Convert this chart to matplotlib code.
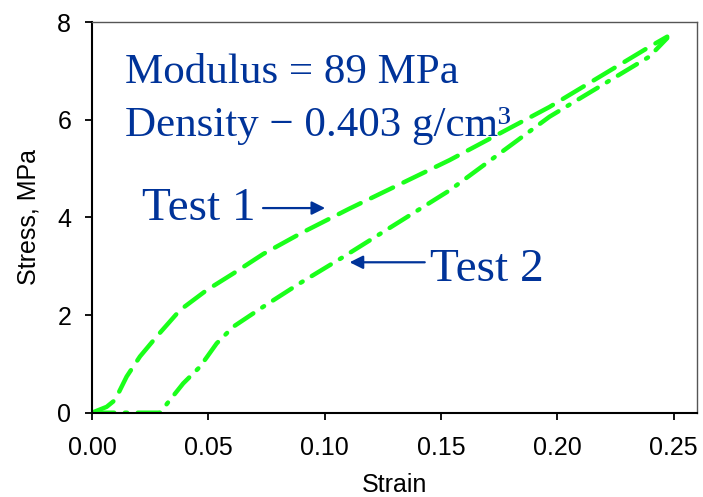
import matplotlib
matplotlib.use("Agg")
import matplotlib.pyplot as plt

# Data
test1_strain = [0.0, 0.0063, 0.0099, 0.0149, 0.0206, 0.0278, 0.0378, 0.0493, 0.0607, 0.0736,
                0.09, 0.1107, 0.1536, 0.1966, 0.2395, 0.2472]
test1_stress = [0.0, 0.12, 0.26, 0.74, 1.15, 1.56, 2.10, 2.51, 2.85, 3.25,
                3.68, 4.18, 5.17, 6.26, 7.49, 7.70]
test2_strain = [0.0, 0.0292, 0.0335, 0.0392, 0.0464, 0.0536, 0.0607, 0.0736, 0.0893, 0.108,
                0.1536, 0.1966, 0.2395, 0.2472]
test2_stress = [0.0, 0.0, 0.26, 0.60, 0.94, 1.42, 1.76, 2.17, 2.65, 3.19,
                4.55, 6.06, 7.29, 7.67]
xticks = [0.00, 0.05, 0.10, 0.15, 0.20, 0.25]
yticks = [0, 2, 4, 6, 8]

plt.rcParams['font.family'] = ['Liberation Sans', 'DejaVu Sans']

fig = plt.figure(figsize=(7.03, 4.97), dpi=100)
ax = fig.add_axes([92/703, (497-412.7)/497, (697-92)/703, (412.7-22)/497])

green = '#1aff1a'
ax.plot(test1_strain, test1_stress, color=green, lw=3.2, dashes=(5.5, 2.6), dash_capstyle='round')
ax.plot(test2_strain, test2_stress, color=green, lw=3.2, dashes=(5.0, 2.4, 0.5, 2.4), dash_capstyle='round')

ax.set_xlim(0, 0.26)
ax.set_ylim(0, 8)
ax.set_xticks(xticks)
ax.set_xticklabels([f"{v:.2f}" for v in xticks])
ax.set_yticks(yticks)
ax.tick_params(axis='both', direction='out', length=5, width=1.3, labelsize=18, color='black')
ax.tick_params(axis='x', pad=12)
ax.tick_params(axis='y', pad=10)
for s in ['left', 'bottom']:
    ax.spines[s].set_linewidth(1.5)
    ax.spines[s].set_color('black')
for s in ['top', 'right']:
    ax.spines[s].set_linewidth(1.0)
    ax.spines[s].set_color('#555555')

ax.set_xlabel('Strain', fontsize=18, labelpad=9)
ax.set_ylabel('Stress, MPa', fontsize=18, labelpad=12)

blue = '#003399'
serif = ['Liberation Serif', 'DejaVu Serif']
ax.text(0.0142, 6.76, 'Modulus = 89 MPa', fontsize=31, color=blue, family=serif, va='baseline', ha='left')
ax.text(0.0142, 5.67, 'Density \u2212 0.403 g/cm\u00b3', fontsize=31, color=blue, family=serif, va='baseline', ha='left')
ax.text(0.0215, 3.94, 'Test 1', fontsize=34, color=blue, family=serif, va='baseline', ha='left')
ax.text(0.1451, 2.70, 'Test 2', fontsize=34, color=blue, family=serif, va='baseline', ha='left')

ax.annotate('', xy=(0.1002, 4.19), xytext=(0.0735, 4.19),
            arrowprops=dict(arrowstyle='-|>', color=blue, lw=1.6, mutation_scale=20, shrinkA=0, shrinkB=0))
ax.annotate('', xy=(0.1107, 3.08), xytext=(0.1430, 3.08),
            arrowprops=dict(arrowstyle='-|>', color=blue, lw=1.6, mutation_scale=20, shrinkA=0, shrinkB=0))

fig.savefig('out.png', dpi=100)
